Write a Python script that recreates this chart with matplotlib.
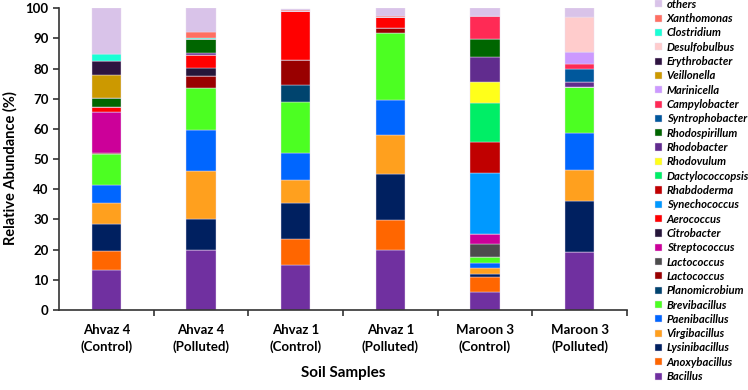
import numpy as np
import matplotlib
matplotlib.use('Agg')
import matplotlib.pyplot as plt
from matplotlib.ticker import FixedLocator, NullFormatter

plt.rcParams['font.family'] = ['Lato', 'DejaVu Sans']

samples = ['Ahvaz 4\n(Control)', 'Ahvaz 4\n(Polluted)', 'Ahvaz 1\n(Control)',
           'Ahvaz 1\n(Polluted)', 'Maroon 3\n(Control)', 'Maroon 3\n(Polluted)']

# relative abundance (%) per genus, one value per sample
bacillus = [13.3, 19.9, 14.9, 19.9, 6.1, 19.1]
anoxybacillus = [6.1, 0, 8.8, 9.9, 4.9, 0]
lysinibacillus = [9.1, 10.4, 11.9, 15.2, 0.9, 17.0]
virgibacillus = [7.0, 15.9, 7.6, 13.0, 2.0, 10.3]
paenibacillus = [6.1, 13.5, 9.0, 11.6, 1.6, 12.4]
brevibacillus = [10.0, 14.0, 16.9, 22.2, 2.2, 15.0]
planomicrobium = [0, 0, 5.4, 0, 0, 0]
lactococcus_a = [0.3, 4.0, 8.3, 1.8, 0, 0]
lactococcus_b = [0, 0, 0, 0, 4.2, 0]
streptococcus = [13.7, 0, 0, 0, 3.2, 0]
citrobacter = [0, 2.6, 0, 0, 0, 0]
aerococcus = [1.7, 4.2, 16.3, 3.6, 0, 0]
synechococcus = [0, 0, 0, 0, 20.2, 0]
rhabdoderma = [0, 0, 0, 0, 10.3, 0]
dactylococcopsis = [0, 0, 0, 0, 12.9, 0]
rhodovulum = [0, 0, 0, 0, 7.2, 0]
rhodobacter = [0, 0.8, 0, 0, 8.1, 1.9]
rhodospirillum = [3.1, 4.4, 0, 0, 5.9, 0]
syntrophobacter = [0, 0, 0, 0, 0, 4.2]
campylobacter = [0, 0, 0, 0, 7.8, 1.5]
marinicella = [0, 0, 0, 0, 0, 4.2]
veillonella = [7.6, 0, 0, 0, 0, 0]
erythrobacter = [4.6, 0, 0, 0, 0, 0]
desulfobulbus = [0, 0, 0, 0, 0, 11.4]
clostridium = [2.3, 0.6, 0, 0, 0, 0]
xanthomonas = [0, 2.0, 0.2, 0.3, 0, 0]
others = [15.2, 7.7, 0.6, 2.5, 2.5, 3.0]

# stacking order, bottom to top
series = [
    ('Bacillus', bacillus, '#7030A0'),
    ('Anoxybacillus', anoxybacillus, '#FF6600'),
    ('Lysinibacillus', lysinibacillus, '#002060'),
    ('Virgibacillus', virgibacillus, '#FFA01E'),
    ('Paenibacillus', paenibacillus, '#0066FF'),
    ('Brevibacillus', brevibacillus, '#4CFF22'),
    ('Planomicrobium', planomicrobium, '#00446E'),
    ('Lactococcus', lactococcus_a, '#990000'),
    ('Lactococcus', lactococcus_b, '#4D4D4D'),
    ('Streptococcus', streptococcus, '#CC0099'),
    ('Citrobacter', citrobacter, '#26163A'),
    ('Aerococcus', aerococcus, '#FF0000'),
    ('Synechococcus', synechococcus, '#0099FF'),
    ('Rhabdoderma', rhabdoderma, '#C00000'),
    ('Dactylococcopsis', dactylococcopsis, '#00EE66'),
    ('Rhodovulum', rhodovulum, '#FFFF1A'),
    ('Rhodobacter', rhodobacter, '#612C8E'),
    ('Rhodospirillum', rhodospirillum, '#006600'),
    ('Syntrophobacter', syntrophobacter, '#00589C'),
    ('Campylobacter', campylobacter, '#FF2A55'),
    ('Marinicella', marinicella, '#CC99FF'),
    ('Veillonella', veillonella, '#CC9900'),
    ('Erythrobacter', erythrobacter, '#2E1440'),
    ('Desulfobulbus', desulfobulbus, '#FFCCCC'),
    ('Clostridium', clostridium, '#1AFFD5'),
    ('Xanthomonas', xanthomonas, '#FF6F61'),
    ('others', others, '#D9C3E9'),
]

fig = plt.figure(figsize=(7.48, 3.9), dpi=100)
ax = fig.add_axes([0.0789, 0.2051, 0.7594, 0.7736])

x = np.arange(len(samples))
bottom = np.zeros(len(samples))
handles = []
for name, vals, color in series:
    vals = np.array(vals, dtype=float)
    b = ax.bar(x, vals, width=0.31, bottom=bottom, color=color,
               edgecolor='#E8DDF0', linewidth=0.3, label=name)
    handles.append(b)
    bottom += vals

ax.set_xlim(-0.5, len(samples) - 0.5)
ax.set_ylim(0, 100)
ax.set_yticks(np.arange(0, 101, 10))
ax.set_xticks(x)
ax.set_xticklabels(samples, fontsize=9.5, fontweight='bold', linespacing=1.45)
ax.tick_params(axis='x', which='major', length=0, pad=10)
ax.xaxis.set_minor_locator(FixedLocator(np.arange(0.5, len(samples) + 0.5, 1)))
ax.xaxis.set_minor_formatter(NullFormatter())
ax.tick_params(axis='x', which='minor', length=4, width=1.2, color='#333333')
ax.tick_params(axis='y', length=4, width=1.2, color='#333333', labelsize=9.5)
for lbl in ax.get_yticklabels():
    lbl.set_fontweight('bold')

for side in ['top', 'right']:
    ax.spines[side].set_visible(False)
for side in ['left', 'bottom']:
    ax.spines[side].set_linewidth(1.2)
    ax.spines[side].set_color('#333333')

ax.set_ylabel('Relative Abundance (%)', fontsize=10.5, fontweight='bold')
ax.yaxis.set_label_coords(-0.073, 0.47)
ax.set_xlabel('Soil Samples', fontsize=11, fontweight='bold', labelpad=9)

leg = fig.legend(handles[::-1], [s[0] for s in series][::-1],
                 loc='upper left', bbox_to_anchor=(0.8757, 1.003),
                 frameon=False, prop={'style': 'italic', 'weight': 'bold', 'size': 8.1},
                 handlelength=0.6, handleheight=0.6, handletextpad=0.45,
                 labelspacing=0.295, borderaxespad=0, borderpad=0)

fig.savefig('out.png', dpi=100)
